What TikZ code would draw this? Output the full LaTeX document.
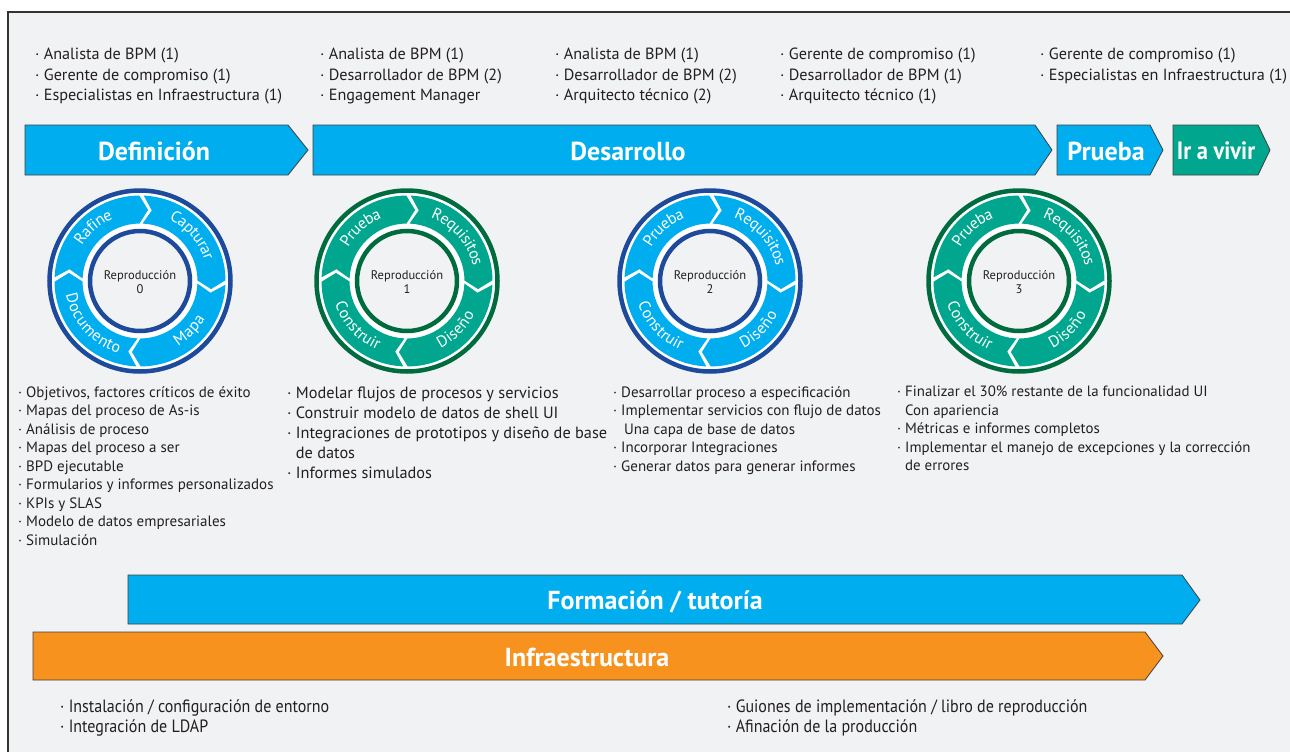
\documentclass[tikz,border=0pt]{standalone}
\usepackage{fontspec}
\setmainfont{PT Sans}
\newfontfamily\narrowfont[FakeStretch=0.9]{PT Sans}
\usetikzlibrary{decorations.text}

\definecolor{fondo}{HTML}{F1F2F4}
\definecolor{cian}{HTML}{00AEEF}
\definecolor{verde}{HTML}{00A78E}
\definecolor{azulos}{HTML}{1D4A9B}
\definecolor{verdeos}{HTML}{006B3F}
\definecolor{naranja}{HTML}{F7921E}
\definecolor{texto}{HTML}{231F20}

\tikzset{
    barra/.style={draw=black!75, line width=0.8},
    titulo/.style={text=white, font=\bfseries\fontsize{26}{26}\selectfont},
    lista/.style={anchor=north west, inner sep=0, align=left, text=texto},
}

\begin{document}
\begin{tikzpicture}[x=1pt, y=1pt]
        \useasboundingbox (0,0) rectangle (1290,-752);
        \fill[white] (0,0) rectangle (1290,-752);
        \draw[line width=1.5, draw=black!80, fill=fondo] (8,-12) rectangle (1300,-765);

        % equipo por fase
        \node[lista, font=\fontsize{16.2}{20.5}\selectfont] (eq1) at (35,-48)
            {· Analista de BPM (1)\\· Gerente de compromiso (1)\\· Especialistas en Infraestructura (1)};
        \node[lista, font=\fontsize{16.2}{20.5}\selectfont] (eq2) at (320,-48)
            {· Analista de BPM (1)\\· Desarrollador de BPM (2)\\· Engagement Manager};
        \node[lista, font=\fontsize{16.2}{20.5}\selectfont] (eq3) at (555,-48)
            {· Analista de BPM (1)\\· Desarrollador de BPM (2)\\· Arquitecto técnico (2)};
        \node[lista, font=\fontsize{16.2}{20.5}\selectfont] (eq4) at (780,-48)
            {· Gerente de compromiso (1)\\· Desarrollador de BPM (1)\\· Arquitecto técnico (1)};
        \node[lista, font=\fontsize{16.2}{20.5}\selectfont] (eq5) at (1040,-48)
            {· Gerente de compromiso (1)\\· Especialistas en Infraestructura (1)};

        % fases
        \foreach \xa/\xb/\xc/\col/\nm/\lab/\xt in {25/288/308/cian/def/Definición/154,
                313/1035/1052/cian/des/Desarrollo/628, 1057/1150/1163/cian/pru/Prueba/1106}
        {
            \draw[barra, fill=\col] (\xa,-125) -- (\xb,-125) -- (\xc,-150) -- (\xb,-175) -- (\xa,-175) -- cycle;
            \node[titulo] (\nm) at (\xt,-151) {\lab};
        }
        \draw[barra, fill=verde] (1173,-125) -- (1258,-125) -- (1270,-150) -- (1258,-175) -- (1173,-175) -- cycle;
        \node[titulo, font=\narrowfont\bfseries\fontsize{25}{25}\selectfont] (viv) at (1216,-151) {Ir a vivir};

        % ciclos de reproduccion
        \foreach \cx/\k/\banda/\anillo/\la/\lb/\lc/\ld in {140/0/cian/azulos/Rafine/Capturar/Mapa/Documento,
                407/1/verde/verdeos/Prueba/Requisitos/Diseño/Construir,
                710/2/cian/azulos/Prueba/Requisitos/Diseño/Construir,
                1019/3/verde/verdeos/Prueba/Requisitos/Diseño/Construir}
        {
            \begin{scope}[shift={(\cx,-281)}]
                \fill[white] (0,0) circle[radius=91];
                \draw[\anillo, line width=4.5] (0,0) circle[radius=90.5];
                \foreach \s in {179,89,-1,-91}
                    \fill[\banda] (\s-1.5:85.5) arc[start angle=\s-1.5, end angle=\s-88.5, radius=85.5]
                        -- (\s-95.5:71.5) -- (\s-88.5:57.5) arc[start angle=\s-88.5, end angle=\s-1.5, radius=57.5]
                        -- (\s-8.5:71.5) -- cycle;
                \draw[\anillo, line width=4.5, fill=fondo] (0,0) circle[radius=50];
                \node[align=center, text=texto, font=\fontsize{12.5}{14}\selectfont] (rep\k) at (0,-1)
                    {Reproducción\\\k};
                \fontsize{16}{16}\selectfont
                \path[decorate, decoration={text along path, text/.expanded=\la, text align=center,
                    text color=white, raise=-3.8}] (172:71.5) arc[start angle=172, end angle=90, radius=71.5];
                \path[decorate, decoration={text along path, text/.expanded=\lb, text align=center,
                    text color=white, raise=-3.8}] (86:71.5) arc[start angle=86, end angle=-4, radius=71.5];
                \path[decorate, decoration={text along path, text/.expanded=\lc, text align=center,
                    text color=white, raise=-3.8}] (-86:71.5) arc[start angle=-86, end angle=-4, radius=71.5];
                \path[decorate, decoration={text along path, text/.expanded=\ld, text align=center,
                    text color=white, raise=-3.8}] (-184:71.5) arc[start angle=-184, end angle=-92, radius=71.5];
            \end{scope}
        }

        % entregables
        \node[lista, font=\fontsize{15}{18.5}\selectfont] (ent0) at (18,-386)
            {· Objetivos, factores críticos de éxito\\· Mapas del proceso de As-is\\· Análisis de proceso\\
             · Mapas del proceso a ser\\· BPD ejecutable\\· Formularios y informes personalizados\\
             · KPIs y SLAS\\· Modelo de datos empresariales\\· Simulación};
        \node[lista, font=\fontsize{16.3}{20}\selectfont] (ent1) at (287,-386.5)
            {· Modelar flujos de procesos y servicios\\· Construir modelo de datos de shell UI\\
             · Integraciones de prototipos y diseño de base\\\phantom{· }de datos\\· Informes simulados};
        \node[lista, font=\fontsize{15}{18.5}\selectfont] (ent2) at (613,-386)
            {· Desarrollar proceso a especificación\\· Implementar servicios con flujo de datos\\
             \phantom{· }\hspace{3pt}Una capa de base de datos\\· Incorporar Integraciones\\
             · Generar datos para generar informes};
        \node[lista, font=\fontsize{14.9}{18.5}\selectfont] (ent3) at (897,-386)
            {· Finalizar el 30\% restante de la funcionalidad UI\\\phantom{· }Con apariencia\\
             · Métricas e informes completos\\· Implementar el manejo de excepciones y la corrección\\
             \phantom{· }de errores};

        % soporte continuo
        \draw[barra, fill=cian] (128,-575) -- (1182,-575) -- (1200,-600) -- (1182,-624) -- (128,-624) -- cycle;
        \node[titulo] (form) at (655,-602) {Formación / tutoría};
        \draw[barra, fill=naranja] (33,-632) -- (1145,-632) -- (1163,-656) -- (1145,-680) -- (33,-680) -- cycle;
        \node[titulo] (infra) at (587,-657) {Infraestructura};

        \node[lista, font=\narrowfont\fontsize{17.8}{20}\selectfont] (inf1) at (60,-699)
            {· Instalación / configuración de entorno\\· Integración de LDAP};
        \node[lista, font=\narrowfont\fontsize{17.8}{20}\selectfont] (inf2) at (727,-699)
            {· Guiones de implementación / libro de reproducción\\· Afinación de la producción};

    \end{tikzpicture}
\end{document}
